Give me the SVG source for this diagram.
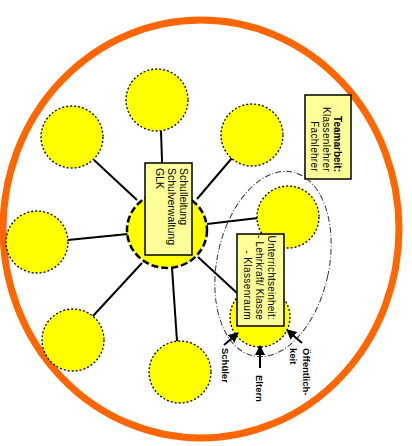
<svg xmlns="http://www.w3.org/2000/svg" width="412" height="446" viewBox="0 0 412 446">
  <style>
    .spoke { stroke: #000; stroke-width: 2; fill: none; }
    .node { fill: #FFFF00; stroke: #000; stroke-width: 1.3; stroke-dasharray: 2 2; }
    .hub { fill: #FFFF00; stroke: #000; stroke-width: 2.5; stroke-dasharray: 7 3; }
    .box { fill: #FFFF99; stroke: #000; stroke-width: 1.5; }
    .txt { font-family: "Liberation Sans", Arial, sans-serif; font-size: 10.5px; fill: #000; }
    .small { font-size: 10px; }
    .lbl { font-family: "Liberation Sans", Arial, sans-serif; font-size: 9.5px; font-weight: bold; fill: #000; }
    .arrow { stroke: #000; stroke-width: 2; fill: none; marker-end: url(#head); }
  </style>
  <defs>
    <marker id="head" viewBox="0 0 10 10" refX="9" refY="5" markerWidth="5" markerHeight="5" orient="auto" markerUnits="strokeWidth">
      <path d="M0,0 L10,5 L0,10 Z" fill="#000"/>
    </marker>
  </defs>

  <rect width="412" height="446" fill="#fff"/>

  <!-- outer school boundary -->
  <ellipse id="school" cx="201" cy="229" rx="198" ry="209" fill="none" stroke="#FF6600" stroke-width="7"/>

  <!-- spokes from the hub to the satellite circles -->
  <g id="connectors">
    <line class="spoke" x1="163" y1="190" x2="161" y2="131"/>
    <line class="spoke" x1="137" y1="200" x2="94" y2="160"/>
    <line class="spoke" x1="197" y1="199" x2="232" y2="158"/>
    <line class="spoke" x1="128" y1="234" x2="68" y2="240"/>
    <line class="spoke" x1="207" y1="224" x2="258" y2="218"/>
    <line class="spoke" x1="142" y1="263" x2="93" y2="316"/>
    <line class="spoke" x1="172" y1="268" x2="177" y2="341"/>
    <line class="spoke" x1="198" y1="257" x2="237" y2="293"/>
  </g>

  <!-- satellite circles -->
  <g id="n-top"><circle class="node" cx="157" cy="100" r="31"/></g>
  <g id="n-upper-left"><circle class="node" cx="72" cy="137" r="31"/></g>
  <g id="n-upper-right"><circle class="node" cx="252" cy="135" r="31"/></g>
  <g id="n-left"><circle class="node" cx="37" cy="242" r="31"/></g>
  <g id="n-right"><circle class="node" cx="288" cy="217" r="31"/></g>
  <g id="n-lower-left"><circle class="node" cx="73" cy="340" r="31"/></g>
  <g id="n-bottom"><circle class="node" cx="180" cy="372" r="31"/></g>
  <g id="n-lower-right"><circle class="node" cx="260" cy="317" r="30"/></g>

  <!-- hub: school management -->
  <g id="hub">
    <ellipse class="hub" cx="167" cy="230" rx="40" ry="38"/>
    <rect class="box" x="145" y="163" width="47" height="92"/>
    <g transform="translate(168,168) rotate(90)">
      <text class="txt" x="0" y="-12">Schulleitung</text>
      <text class="txt" x="0" y="0">Schulverwaltung</text>
      <text class="txt" x="0" y="12">GLK</text>
    </g>
  </g>

  <!-- teamwork note -->
  <g id="team">
    <rect class="box" x="305" y="95" width="46" height="84"/>
    <g transform="translate(0,172) rotate(90)">
      <text class="txt small" x="0" y="-334" text-anchor="end" font-weight="bold">Teamarbeit:</text>
      <text class="txt small" x="0" y="-323" text-anchor="end" letter-spacing="0.3">Klassenlehrer</text>
      <text class="txt small" x="0" y="-311" text-anchor="end" letter-spacing="0.3">Fachlehrer</text>
    </g>
  </g>

  <!-- teaching unit grouping -->
  <g id="teaching-unit">
    <ellipse cx="273" cy="264" rx="56" ry="94" transform="rotate(12 273 264)" fill="none" stroke="#333" stroke-width="1" stroke-dasharray="6 2 1 2"/>
    <rect class="box" x="237" y="234" width="47" height="92"/>
    <g transform="translate(0,320) rotate(90)">
      <text class="txt small" x="0" y="-268" text-anchor="end" letter-spacing="0.2">Unterrichtseinheit:</text>
      <text class="txt small" x="0" y="-256" text-anchor="end" letter-spacing="0.2">- Lehrkraft/ Klasse</text>
      <text class="txt small" x="0" y="-244" text-anchor="end" letter-spacing="0.4">- Klassenraum</text>
    </g>
  </g>

  <!-- outside influences -->
  <g id="influences">
    <line class="arrow" x1="224" y1="345" x2="238" y2="333"/>
    <line class="arrow" x1="260" y1="368" x2="260" y2="346"/>
    <line class="arrow" x1="302" y1="343" x2="287" y2="330"/>
    <text class="lbl" transform="translate(222,348) rotate(90)">Schüler</text>
    <text class="lbl" transform="translate(256,375) rotate(90)">Eltern</text>
    <text class="lbl" transform="translate(303,348) rotate(90)">Öffentlich-</text>
    <text class="lbl" transform="translate(290,348) rotate(90)">keit</text>
  </g>
</svg>
